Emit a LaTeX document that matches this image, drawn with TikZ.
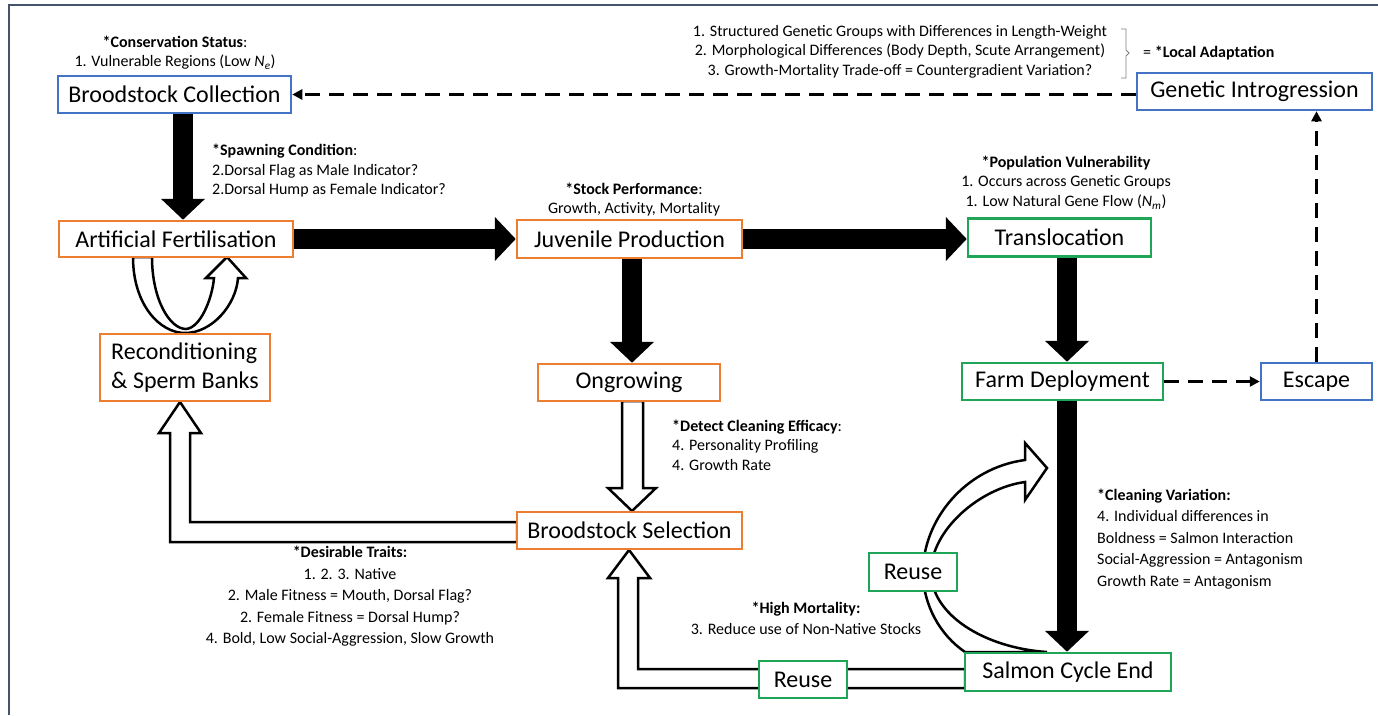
\documentclass[tikz,border=0pt]{standalone}
\usepackage{fontspec}
\setmainfont{Carlito}
\usetikzlibrary{arrows.meta,calc}
\definecolor{cblue}{RGB}{68,114,196}
\definecolor{corange}{RGB}{237,125,49}
\definecolor{cgreen}{RGB}{30,165,85}
\definecolor{cframe}{RGB}{68,84,106}
\begin{document}
\begin{tikzpicture}[x=1pt,y=-1pt,
 box/.style={draw, fill=white, line width=2.5pt, inner sep=0pt, font=\fontsize{24}{29}\selectfont},
 bbox/.style={box, draw=cblue},
 obox/.style={box, draw=corange},
 gbox/.style={box, draw=cgreen},
 note/.style={inner sep=0pt, font=\fontsize{16}{19.5}\selectfont},
 lnote/.style={inner sep=0pt, font=\fontsize{16}{21.5}\selectfont},
 blk/.style={line width=20pt, -{Triangle[length=21pt,width=43pt]}},
 hollow/.style={draw=black, fill=white, line width=2.5pt, line join=miter},
 dsh/.style={line width=2.8pt, dash pattern=on 15pt off 9pt, -{Triangle[length=10pt,width=10pt]}},
 brk/.style={draw=gray, line width=0.9pt}
]
\useasboundingbox (0,0) rectangle (1378,715);
\fill[white] (0,0) rectangle (1378,715);
\draw[cframe, line width=1.3pt] (9,715) -- (9,5) -- (1378,5);

% hollow connectors (drawn first, boxes cover their ends)
\path[hollow] (133,257) .. controls (133,305) and (160,333) .. (185,333) .. controls (212,333) and (236,305) .. (238,278) -- (246,278) -- (227,257) -- (206,278) -- (214,278) .. controls (212,300) and (200,328) .. (186,329) .. controls (170,329) and (152,300) .. (152,257) -- cycle;
\path[hollow] (965,652) .. controls (940,635) and (923,605) .. (923,572) .. controls (923,520) and (965,468) .. (1025,460) -- (1025,443) -- (1047,468) -- (1025,500) -- (1025,482) .. controls (980,488) and (931,530) .. (931,572) .. controls (931,615) and (985,648) .. (1047,652) -- cycle;
\path[hollow] (517,522) -- (190,522) -- (190,433) -- (201,433) -- (180,402) -- (159,433) -- (170,433) -- (170,542) -- (517,542) -- cycle;
\path[hollow] (965,669) -- (638,669) -- (638,578) -- (650,578) -- (629,550) -- (608,578) -- (618,578) -- (618,688) -- (965,688) -- cycle;
\path[hollow] (622,401) -- (622,488) -- (608,488) -- (632,511) -- (656,488) -- (643,488) -- (643,401) -- cycle;

% boxes
\node[bbox, minimum width=233, minimum height=37] (bc) at (174.5,94.5) {Broodstock Collection};
\node[bbox, minimum width=235, minimum height=37] (gi) at (1254.5,91.5) {Genetic Introgression};
\node[obox, minimum width=234, minimum height=36] (af) at (176,239) {Artificial Fertilisation};
\node[obox, minimum width=225, minimum height=38] (jp) at (629.5,239) {Juvenile Production};
\node[gbox, minimum width=183, minimum height=38] (tr) at (1059.5,237.5) {Translocation};
\node[obox, minimum width=170, minimum height=67, align=left] (rc) at (185,367.5) {Reconditioning\\\& Sperm Banks};
\node[obox, minimum width=182, minimum height=37] (og) at (629,382.5) {Ongrowing};
\node[gbox, minimum width=201, minimum height=37] (fd) at (1062.5,381.5) {Farm Deployment};
\node[bbox, minimum width=111, minimum height=37] (es) at (1316.5,381.5) {Escape};
\node[obox, minimum width=225, minimum height=37] (bs) at (629.5,530.5) {Broodstock Selection};
\node[gbox, minimum width=88, minimum height=38] (ru1) at (913,572) {Reuse};
\node[gbox, minimum width=88, minimum height=37] (ru2) at (803,679.5) {Reuse};
\node[gbox, minimum width=206, minimum height=38] (sce) at (1068,672) {Salmon Cycle End};

% black arrows
\path ([xshift=8.5pt]bc.south) coordinate (bcs);
\draw[blk] (bcs) -- (bcs |- af.north);
\draw[blk] (af.east) -- (jp.west);
\draw[blk] (jp.east) -- (jp.east -| tr.west);
\path ([xshift=2.5pt]jp.south) coordinate (jps);
\draw[blk] (jps) -- (jps |- og.north);
\path ([xshift=7.5pt]tr.south) coordinate (trs);
\draw[blk] (trs) -- (trs |- fd.north);
\path ([xshift=4.5pt]fd.south) coordinate (fds);
\draw[blk] (fds) -- (fds |- sce.north);

% dashed arrows
\draw[dsh] (bc.east -| gi.west) -- (bc.east);
\draw[dsh] (fd.east) -- (es.west);
\draw[dsh] (es.north) -- (es.north |- gi.south);

% bracket
\draw[brk] (1121,29) -- (1126,29) -- (1126,50) -- (1129,53) -- (1126,56) -- (1126,78) -- (1121,78);

% notes
\node[note, align=center] (n1) at (175,52.5) {\textbf{*Conservation Status}:\\1. Vulnerable Regions (Low \textit{N\textsubscript{e}})};
\node[note, align=left, anchor=west] (n2) at (212,171) {\textbf{*Spawning Condition}:\\2.Dorsal Flag as Male Indicator?\\2.Dorsal Hump as Female Indicator?};
\node[note, align=center] (n3) at (634,199.5) {\textbf{*Stock Performance}:\\Growth, Activity, Mortality};
\node[note, align=center] (n4) at (1066,182.5) {\textbf{*Population Vulnerability}\\1. Occurs across Genetic Groups\\1. Low Natural Gene Flow (\textit{N\textsubscript{m}})};
\node[note, align=center] (n5) at (900,51.5) {1. Structured Genetic Groups with Differences in Length-Weight\\2. Morphological Differences (Body Depth, Scute Arrangement)\\3. Growth-Mortality Trade-off = Countergradient Variation?};
\node[note, anchor=west] (n6) at (1143,53) {= \textbf{*Local Adaptation}};
\node[note, align=left, anchor=west] (n7) at (672,445) {\textbf{*Detect Cleaning Efficacy}:\\4. Personality Profiling\\4. Growth Rate};
\node[lnote, align=left, anchor=west] (n8) at (1097,539) {\textbf{*Cleaning Variation:}\\4. Individual differences in\\Boldness = Salmon Interaction\\Social-Aggression = Antagonism\\Growth Rate = Antagonism};
\node[lnote, align=center] (n9) at (350,596.5) {\textbf{*Desirable Traits:}\\1. 2. 3. Native\\2. Male Fitness = Mouth, Dorsal Flag?\\2. Female Fitness = Dorsal Hump?\\4. Bold, Low Social-Aggression, Slow Growth};
\node[lnote, align=center] (n10) at (806,618.5) {\textbf{*High Mortality:}\\3. Reduce use of Non-Native Stocks};
\end{tikzpicture}
\end{document}
